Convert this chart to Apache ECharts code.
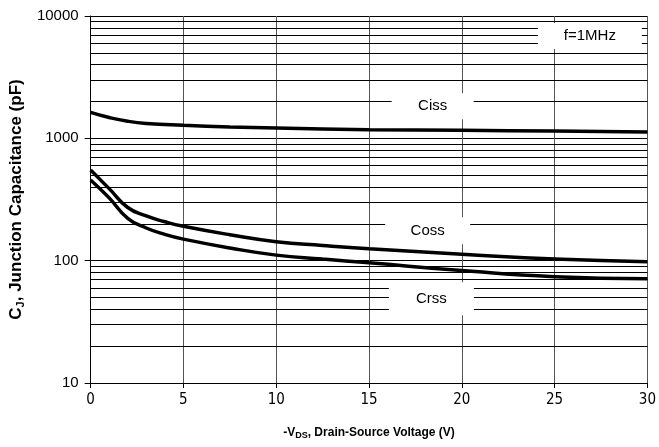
<!DOCTYPE html>
<html>
<head>
<meta charset="utf-8">
<script src="https://cdn.jsdelivr.net/npm/echarts@6/dist/echarts.min.js"></script>
<style>
html,body{margin:0;padding:0;background:#fff;}
#c{width:659px;height:447px;}
</style>
</head>
<body>
<div id="c"></div>
<script>
// Data (x = -VDS in volts, y = capacitance in pF)
var ciss = [[0,1630],[1,1480],[2,1380],[3,1325],[5,1280],[7.5,1240],[10,1214],[15,1178],[20,1162],[25,1147],[30,1126]];
var coss = [[0,551],[1,388],[2,272],[3,232],[4,208],[5,191],[7.5,163],[10,143],[12.5,133],[15,125],[20,113],[25,103],[30,98]];
var crss = [[0,457],[1,326],[2,222],[3,185],[4,164],[5,150],[7.5,127],[10,111],[12.5,103],[15,96],[20,83],[25,74],[30,71]];
var xTicks = [0,5,10,15,20,25,30];
var yTicks = [10,100,1000,10000];
var annotations = [
  {text:'Ciss', x:18.43, y:1827, w:82, h:26},
  {text:'Coss', x:18.16, y:176, w:85, h:27},
  {text:'Crss', x:18.36, y:48.9, w:85, h:33},
  {text:'f=1MHz', x:26.9, y:6864, w:104, h:26}
];
// minor log grid lines 20..90, 200..900, 2000..9000
var minorGrid = [];
[10,100,1000].forEach(function(d){ for (var k=2;k<=9;k++) minorGrid.push(d*k); });

var chart = echarts.init(document.getElementById('c'));
var font = '"Liberation Sans", Arial, sans-serif';
var narrow = '"Liberation Sans Narrow", "DejaVu Sans Condensed", sans-serif';
chart.setOption({
  animation:false,
  grid:{left:89,right:9,top:16,bottom:64},
  xAxis:{
    type:'value',min:0,max:30,interval:5,
    axisLine:{lineStyle:{color:'#000',width:1}},
    axisTick:{show:true,length:5,lineStyle:{color:'#000'}},
    axisLabel:{color:'#000',fontSize:15,margin:10,fontFamily:narrow},
    splitLine:{show:true,lineStyle:{color:'#555',width:1}},
    name:'{b|-V}{s|DS}{b|, Drain-Source Voltage (V)}',
    nameLocation:'middle',nameGap:42,
    nameTextStyle:{rich:{
      b:{fontFamily:font,fontWeight:'bold',fontSize:12,color:'#000'},
      s:{fontFamily:font,fontWeight:'bold',fontSize:9,color:'#000',padding:[6,0,0,0]}
    }}
  },
  yAxis:{
    type:'log',logBase:10,min:10,max:10000,
    axisLine:{show:true,lineStyle:{color:'#000',width:1}},
    axisTick:{show:true,length:6,lineStyle:{color:'#000'}},
    axisLabel:{color:'#000',fontSize:15,margin:12,fontFamily:font,formatter:function(v){return String(Math.round(v));}},
    splitLine:{show:true,lineStyle:{color:'#000',width:1}},
    name:'{b|C}{s|J}{b|, Junction Capacitance (pF)}',
    nameLocation:'middle',nameGap:47,nameRotate:90,
    nameTextStyle:{rich:{
      b:{fontFamily:font,fontWeight:'bold',fontSize:17,color:'#000'},
      s:{fontFamily:font,fontWeight:'bold',fontSize:11,color:'#000',padding:[8,0,0,0]}
    }}
  },
  series:[
    {type:'line',data:[],z:1,silent:true,
     markLine:{silent:true,symbol:'none',label:{show:false},animation:false,
       lineStyle:{color:'#000',width:1,type:'solid'},
       data:minorGrid.map(function(v){return {yAxis:v};})}},
    {name:'Ciss',type:'line',smooth:0.5,showSymbol:false,data:ciss,z:3,lineStyle:{color:'#000',width:3.5}},
    {name:'Coss',type:'line',smooth:0.5,showSymbol:false,data:coss,z:3,lineStyle:{color:'#000',width:3.5}},
    {name:'Crss',type:'line',smooth:0.5,showSymbol:false,data:crss,z:3,lineStyle:{color:'#000',width:3.5}},
    {type:'scatter',symbolSize:1,z:5,silent:true,emphasis:{disabled:true},
     itemStyle:{color:'#fff',opacity:1},
     data:annotations.map(function(a){
       return {value:[a.x,a.y],label:{show:true,position:'inside',formatter:a.text,opacity:1,
         backgroundColor:'#fff',width:a.w,height:a.h,lineHeight:a.h,align:'center',verticalAlign:'middle',
         color:'#000',fontSize:15,fontFamily:font,textBorderWidth:0,textShadowBlur:0}};
     })}
  ]
});
</script>
</body>
</html>
